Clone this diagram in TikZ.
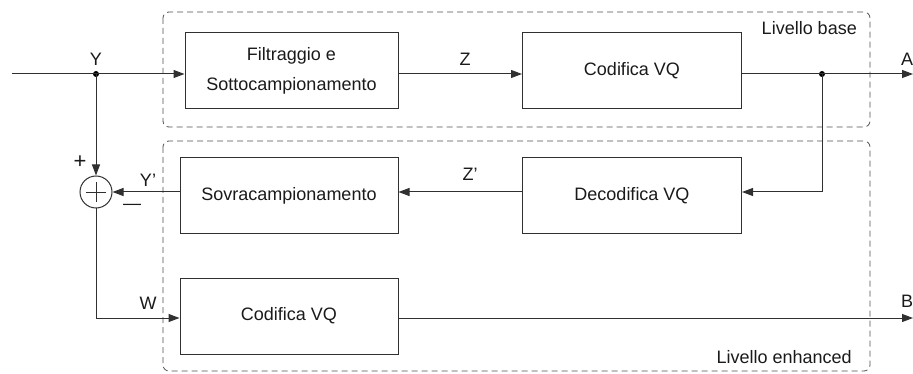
\documentclass[tikz,border=0pt]{standalone}
\usepackage{fontspec}
\setmainfont{Liberation Sans}
\usetikzlibrary{arrows.meta}
\definecolor{linec}{HTML}{303030}
\definecolor{txt}{HTML}{1A1A1A}
\definecolor{dashc}{HTML}{505050}
\begin{document}
\begin{tikzpicture}[x=1pt,y=-1pt,
  block/.style={draw=linec, line width=1pt, minimum height=76pt, inner sep=0pt,
    align=center, font=\fontsize{18}{30}\selectfont, text=txt},
  lbl/.style={font=\fontsize{18}{21}\selectfont, text=txt, inner sep=0pt},
  wire/.style={draw=linec, line width=1pt},
  arr/.style={wire, -{Triangle[length=11pt,width=8pt]}},
  layer/.style={draw=dashc, line width=0.8pt, dash pattern=on 6pt off 4pt, rounded corners=6pt},
  junction/.style={circle, fill=black, minimum size=6pt, inner sep=0pt},
  summer/.style={circle, draw=linec, line width=1pt, minimum size=32pt, inner sep=0pt}
]
\useasboundingbox (0,0) rectangle (913,374);

% signal rows
\coordinate (r1) at (0,74);
\coordinate (r2) at (0,192);
\coordinate (r3) at (0,318);

% layer frames
\draw[layer] (163,12) rectangle (870,127);
\draw[layer] (163,141) rectangle (870,371);
\node[lbl, anchor=east] (lbase) at (857,28) {Livello base};
\node[lbl, anchor=east] (lenh) at (852,357) {Livello enhanced};

% blocks
\node[block, minimum width=213pt] (filt) at (291.5,71) {Filtraggio e\\Sottocampionamento};
\node[block, minimum width=219pt] (cod) at (632,71) {Codifica VQ};
\node[block, minimum width=218pt] (sov) at (289,196) {Sovracampionamento};
\node[block, minimum width=219pt] (dec) at (632,196) {Decodifica VQ};
\node[block, minimum width=218pt] (enc) at (289,316) {Codifica VQ};

% summing junction
\node[summer] (sum) at (96,192) {};
\draw[wire, line width=0.8pt] ([xshift=-10pt]sum.center) -- ([xshift=10pt]sum.center)
  ([yshift=-10pt]sum.center) -- ([yshift=10pt]sum.center);

% branch points and terminals
\node[junction] (ydot) at (96,74) {};
\node[junction] (adot) at (822,74) {};
\coordinate (in) at (12,74);
\coordinate (outA) at (913,74);
\coordinate (outB) at (913,318);

% connections
\draw[arr] (in) -- (filt.west |- r1);
\draw[arr] (filt.east |- r1) -- (cod.west |- r1);
\draw[arr] (cod.east |- r1) -- (outA);
\draw[arr] (adot.center) |- (dec.east |- r2);
\draw[arr] (dec.west |- r2) -- (sov.east |- r2);
\draw[arr] (sov.west |- r2) -- (sum.east);
\draw[arr] (ydot.center) -- (sum.north);
\draw[arr] (sum.south) |- (enc.west |- r3);
\draw[arr] (enc.east |- r3) -- (outB);

% signal labels
\node[lbl] (ly) at (96,59) {Y};
\node[lbl] (lz) at (465,59) {Z};
\node[lbl] (la) at (907,59) {A};
\node[lbl] (lyp) at (148,180) {Y’};
\node[lbl] (lzp) at (470,174) {Z’};
\node[lbl] (lw) at (148,303) {W};
\node[lbl] (lb) at (907,301) {B};
\node[lbl, font=\fontsize{22}{24}\selectfont] (lplus) at (80,162) {+};
\node[lbl] (lminus) at (132,207) {—};
\end{tikzpicture}
\end{document}
